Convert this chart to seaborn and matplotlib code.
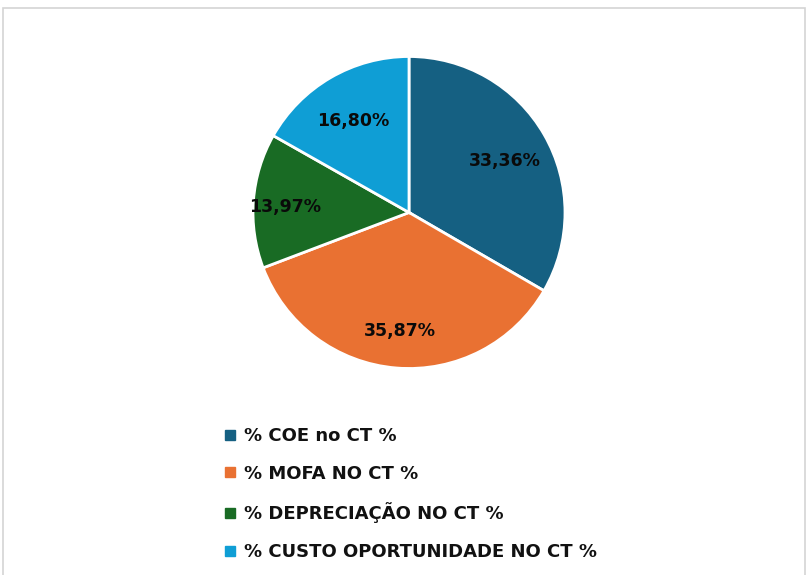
import matplotlib
matplotlib.use("Agg")
import matplotlib.pyplot as plt
from matplotlib.patches import Rectangle
from matplotlib.lines import Line2D
import numpy as np
import seaborn as sns

categories = ["% COE no CT %", "% MOFA NO CT %", "% DEPRECIAÇÃO NO CT %", "% CUSTO OPORTUNIDADE NO CT %"]
values = [33.36, 35.87, 13.97, 16.80]
labels = ["33,36%", "35,87%", "13,97%", "16,80%"]
colors = ["#156082", "#E97132", "#196B24", "#0F9ED5"]

sns.set_theme(style="white")
plt.rcParams["font.family"] = ["DejaVu Sans"]

W, H = 807, 575
fig = plt.figure(figsize=(W / 100, H / 100), dpi=100)
fig.patch.set_facecolor("white")

# chart border
fig.patches.append(Rectangle((3 / W, -0.02), (805 - 3) / W, 1 - 8 / H + 0.02,
                             transform=fig.transFigure, fill=False,
                             edgecolor="#d4d4d4", linewidth=1.2))

cx, cy, r = 409, 212.5, 156
ax = fig.add_axes([(cx - r) / W, (H - cy - r) / H, 2 * r / W, 2 * r / H])
wedges, _ = ax.pie(values, colors=colors, startangle=90, counterclock=False,
                   wedgeprops=dict(edgecolor="white", linewidth=2))
ax.set_aspect("equal")
ax.set_xlim(-1, 1)
ax.set_ylim(-1, 1)
ax.axis("off")

total = sum(values)
start = 90.0
dists = [0.71, 0.74, 0.80, 0.71]
for v, lab, d in zip(values, labels, dists):
    ang = start - v / total * 360 / 2
    start -= v / total * 360
    a = np.deg2rad(ang)
    ax.text(d * np.cos(a), d * np.sin(a) - 0.025, lab, ha="center", va="center",
            fontsize=12.5, fontweight="bold", color="#0a0a0a")

handles = [Line2D([], [], marker="s", linestyle="none", markersize=6.5,
                  markerfacecolor=c, markeredgecolor=c) for c in colors]
leg = fig.legend(handles, categories, loc="upper left",
                 bbox_to_anchor=(222 / W, 1 - 427 / H), frameon=False,
                 prop=dict(weight="bold", size=13),
                 labelspacing=1.09, handletextpad=0.3, handlelength=0.9,
                 borderpad=0, borderaxespad=0)
for t in leg.get_texts():
    t.set_color("#111111")

fig.savefig("out.png", dpi=100, facecolor="white")
